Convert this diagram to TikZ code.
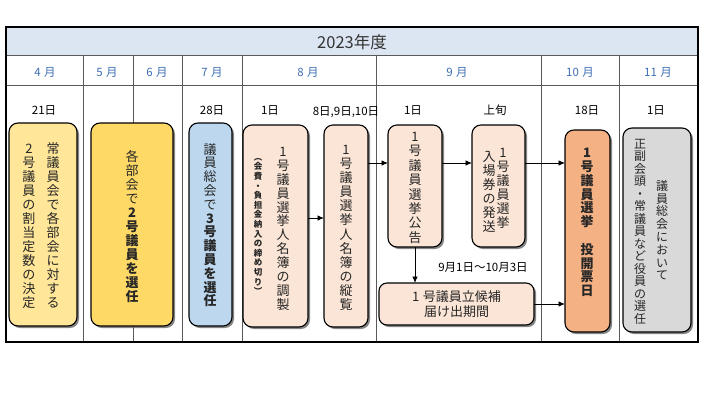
\documentclass[tikz,border=0pt]{standalone}
\usepackage{fontspec}
\setmainfont{Noto Sans CJK JP}
\usetikzlibrary{shadows,arrows.meta}
\definecolor{titlebg}{HTML}{DCE6F2}
\definecolor{mblue}{HTML}{3D6EB4}
\definecolor{txt}{HTML}{262626}
\definecolor{cA}{HTML}{FFE699}
\definecolor{cB}{HTML}{FFD966}
\definecolor{cC}{HTML}{BDD7EE}
\definecolor{cP}{HTML}{FBE5D6}
\definecolor{cI}{HTML}{F4B183}
\definecolor{cJ}{HTML}{D9D9D9}
\ExplSyntaxOn
\NewDocumentCommand\vtx{O{14pt}m}{
  \vbox:n {
    \dim_set:Nn \baselineskip {#1}
    \dim_set:Nn \lineskiplimit {-100pt}
    \tl_map_inline:nn {#2} { \hbox_to_wd:nn {1em} { \hss ##1 \hss } }
  }
}
\ExplSyntaxOff
\newcommand\msp{\hspace{3.5pt}}
\begin{document}
\begin{tikzpicture}[x=1pt,y=-1pt,
  box/.style={draw=black, line width=1.1pt, rounded corners=9pt, inner sep=0pt, outer sep=0pt,
    drop shadow={shadow xshift=2pt,shadow yshift=-2pt,fill=black!60,opacity=.8}},
  vt/.style={inner sep=0pt, anchor=north, text=txt, font=\fontsize{13}{14}\selectfont},
  arr/.style={-{Latex[length=6.5pt,width=5.5pt]}, line width=0.9pt},
  mon/.style={text=mblue, font=\fontsize{11.5}{12}\selectfont},
  day/.style={font=\fontsize{11.5}{12}\selectfont, text=black},
  gridline/.style={draw=black!65, line width=0.8pt}]

\useasboundingbox (0,0) rectangle (713,400);

% title bar and grid
\fill[titlebg] (6,27) rectangle (698,55);
\node[font=\fontsize{16.5}{17}\selectfont, text=black!80] (title) at (352,42) {2023年度};
\draw[gridline] (6,55) -- (698,55);
\draw[gridline] (6,85) -- (698,85);
\foreach \x in {83,133,182,242,376,541,619} \draw[gridline] (\x,55) -- (\x,342);
\draw[black, line width=1.6pt] (6,27) rectangle (698,342);

% months
\node[mon] (m4) at (45,72) {4\msp 月};
\node[mon] (m5) at (107,72) {5\msp 月};
\node[mon] (m6) at (157,72) {6\msp 月};
\node[mon] (m7) at (212,72) {7\msp 月};
\node[mon] (m8) at (308,72) {8\msp 月};
\node[mon] (m9) at (457,72) {9\msp 月};
\node[mon] (m10) at (580,72) {10\msp 月};
\node[mon] (m11) at (658,72) {11\msp 月};

% dates
\node[day] (d1) at (44,110) {21日};
\node[day] (d2) at (212,110) {28日};
\node[day] (d3) at (270,110) {1日};
\node[day] (d4) at (346,112) {8日,9日,10日};
\node[day] (d5) at (413,110) {1日};
\node[day] (d6) at (495,110) {上旬};
\node[day] (d7) at (587,110) {18日};
\node[day] (d8) at (656,110) {1日};

% boxes
\node[box, fill=cA, minimum width=68pt, minimum height=203pt] (A) at (43,224.5) {};
\node[box, fill=cB, minimum width=82pt, minimum height=203pt] (B) at (132,224.5) {};
\node[box, fill=cC, minimum width=43pt, minimum height=203pt] (C) at (210.5,224.5) {};
\node[box, fill=cP, minimum width=65pt, minimum height=202pt] (D) at (275.5,226) {};
\node[box, fill=cP, minimum width=44pt, minimum height=202pt] (E) at (346,226) {};
\node[box, fill=cP, minimum width=54pt, minimum height=122pt] (F) at (415,186) {};
\node[box, fill=cP, minimum width=53pt, minimum height=122pt] (G) at (498.5,186) {};
\node[box, fill=cP, minimum width=155pt, minimum height=42pt, rounded corners=8pt] (H) at (456.5,304) {};
\node[box, fill=cI, minimum width=45pt, minimum height=202pt] (I) at (587.5,231) {};
\node[box, fill=cJ, minimum width=68pt, minimum height=204pt] (J) at (657,230) {};

% texts
\node[vt] (tA1) at (53,142) {\vtx[14pt]{常議員会で各部会に対する}};
\node[vt] (tA2) at (29,144) {\vtx[14pt]{2号議員の割当定数の決定}};
\node[vt] (tB) at (132,150) {\vtx[14pt]{各部会で{\bfseries 2}{\bfseries 号}{\bfseries 議}{\bfseries 員}{\bfseries を}{\bfseries 選}{\bfseries 任}}};
\node[vt] (tC) at (210,143) {\vtx[13.8pt]{議員総会で{\bfseries 3}{\bfseries 号}{\bfseries 議}{\bfseries 員}{\bfseries を}{\bfseries 選}{\bfseries 任}}};
\node[vt] (tD1) at (283,147) {\vtx[13.9pt]{1号議員選挙人名簿の調製}};
\node[vt, font=\fontsize{8.5}{9}\selectfont\bfseries] (tD2) at (258,158) {\vtx[9.6pt]{︵会費・負担金納入の締め切り︶}};
\node[vt] (tE) at (346,145) {\vtx[14.1pt]{1号議員選挙人名簿の縦覧}};
\node[vt] (tF) at (415,132) {\vtx[14.4pt]{1号議員選挙公告}};
\node[vt] (tG1) at (503,148) {\vtx[14pt]{1号議員選挙}};
\node[vt] (tG2) at (489,151) {\vtx[14pt]{入場券の発送}};
\node[vt, font=\fontsize{13}{14}\selectfont\bfseries] (tI) at (587,148) {\vtx[13.8pt]{1号議員選挙　投開票日}};
\node[vt, font=\fontsize{12}{13}\selectfont] (tJ1) at (640,139) {\vtx[12.5pt]{正副会頭・常議員など役員の選任}};
\node[vt, font=\fontsize{12}{13}\selectfont] (tJ2) at (662,180) {\vtx[12.8pt]{議員総会において}};
\node[align=center, text=txt, font=\fontsize{13}{15}\selectfont] (tH) at (456.5,304) {1\msp 号議員立候補\\届け出期間};
\node[font=\fontsize{11.5}{12}\selectfont, text=black] (lab) at (483,267) {9月1日～10月3日};

% arrows
\coordinate (y1) at (0,163);
\coordinate (y2) at (0,218);
\draw[arr] (D.east |- y2) -- (E.west |- y2);
\draw[arr] (E.east |- y1) -- (F.west |- y1);
\draw[arr] (F.east |- y1) -- (G.west |- y1);
\draw[arr] (G.east |- y1) -- (I.west |- y1);
\draw[arr] (F.south) -- (H.north -| F.south);
\draw[arr] (H.east) -- (I.west |- H.east);
\end{tikzpicture}
\end{document}
